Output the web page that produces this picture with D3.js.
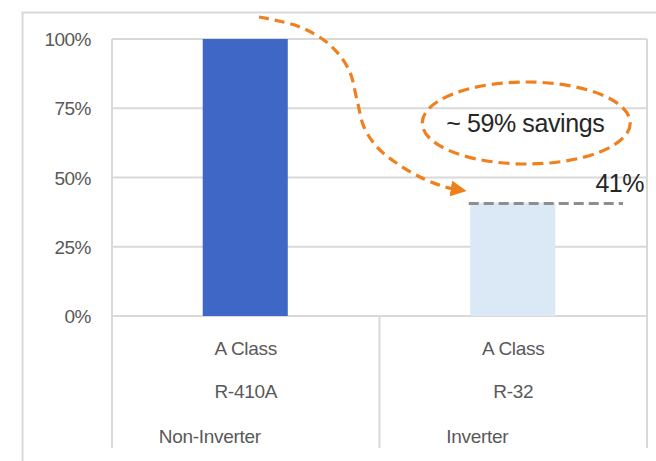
<!DOCTYPE html>
<html>
<head>
<meta charset="utf-8">
<script src="https://cdn.jsdelivr.net/npm/d3@7/dist/d3.min.js"></script>
<style>
  html, body { margin: 0; padding: 0; background: #fff; }
  svg { display: block; }
  text { font-family: "Liberation Sans", Arial, sans-serif; }
</style>
</head>
<body>
<script>
// Relative energy use: non-inverter R-410A unit vs inverter R-32 unit
const classLabels = ["A Class", "A Class"];
const refrigerants = ["R-410A", "R-32"];
const driveTypes = ["Non-Inverter", "Inverter"];
const values = [1.00, 0.41];
const yTicks = [0, 0.25, 0.5, 0.75, 1.0];
const barColors = ["#3F68C6", "#DBE9F7"];
const savingsText = "~ 59% savings";

const W = 656, H = 461;
const svg = d3.select("body").append("svg").attr("width", W).attr("height", H);

const keys = d3.range(values.length);
const x = d3.scaleBand().domain(keys).range([112, 647]).paddingInner(0).paddingOuter(0);
const y = d3.scaleLinear().domain([0, 1]).range([316, 39]);
const fmt = d3.format(".0%");
const grid = "#D9D9D9";
const axisText = "#595959";

// chart frame
svg.append("rect").attr("x", 22.5).attr("y", 12.5).attr("width", 700).attr("height", 470)
  .attr("fill", "none").attr("stroke", grid).attr("stroke-width", 2);

// gridlines
svg.append("g").selectAll("line").data(yTicks).join("line")
  .attr("x1", x.range()[0]).attr("x2", x.range()[1])
  .attr("y1", d => y(d)).attr("y2", d => y(d))
  .attr("stroke", grid).attr("stroke-width", 2);

// y tick labels
svg.append("g").selectAll("text").data(yTicks).join("text")
  .attr("x", 91).attr("y", d => y(d) + 7)
  .attr("text-anchor", "end").attr("font-size", 19).attr("fill", axisText)
  .attr("letter-spacing", -0.5)
  .text(d => fmt(d));

// plot edges and category dividers
const catBottom = 448;
svg.append("line").attr("x1", x.range()[0]).attr("x2", x.range()[0]).attr("y1", y(1)).attr("y2", catBottom)
  .attr("stroke", grid).attr("stroke-width", 2);
svg.append("line").attr("x1", x.range()[1]).attr("x2", x.range()[1]).attr("y1", y(1)).attr("y2", catBottom)
  .attr("stroke", grid).attr("stroke-width", 2);
svg.append("g").selectAll("line").data(keys.slice(1)).join("line")
  .attr("x1", d => x(d)).attr("x2", d => x(d)).attr("y1", y(0)).attr("y2", catBottom)
  .attr("stroke", grid).attr("stroke-width", 2);

// bars
const barW = x.bandwidth() * 0.318;
svg.append("g").selectAll("rect").data(keys).join("rect")
  .attr("x", d => x(d) + x.bandwidth() / 2 - barW / 2 - 0.5)
  .attr("width", barW)
  .attr("y", d => y(values[d]))
  .attr("height", d => y(0) - y(values[d]))
  .attr("fill", d => barColors[d]);

// category labels (three levels)
const cx = d => x(d) + x.bandwidth() / 2;
svg.append("g").selectAll("text").data(keys).join("text")
  .attr("x", cx).attr("y", 355).attr("text-anchor", "middle")
  .attr("font-size", 19).attr("fill", axisText).attr("letter-spacing", -0.3)
  .text(d => classLabels[d]);
svg.append("g").selectAll("text").data(keys).join("text")
  .attr("x", cx).attr("y", 398).attr("text-anchor", "middle")
  .attr("font-size", 19).attr("fill", axisText).attr("letter-spacing", -0.3)
  .text(d => refrigerants[d]);
svg.append("g").selectAll("text").data(keys).join("text")
  .attr("x", d => cx(d) - 36).attr("y", 443).attr("text-anchor", "middle")
  .attr("font-size", 19).attr("fill", axisText).attr("letter-spacing", -0.3)
  .text(d => driveTypes[d]);

// reference line at the inverter level
const lvl = values[1];
svg.append("line")
  .attr("x1", x(1) + x.bandwidth() / 2 - barW / 2 - 2)
  .attr("x2", x(1) + x.bandwidth() - 24)
  .attr("y1", y(lvl) + 1).attr("y2", y(lvl) + 1)
  .attr("stroke", "#8E8E8E").attr("stroke-width", 3).attr("stroke-dasharray", "10,5");
svg.append("text")
  .attr("x", x(1) + x.bandwidth() - 3).attr("y", y(lvl) - 10)
  .attr("text-anchor", "end").attr("font-size", 25).attr("fill", "#262626")
  .attr("letter-spacing", -0.5)
  .text(fmt(lvl));

// savings callout
const orange = "#F07F1E";
const ellCx = x(1) + x.bandwidth() / 2 + 13;
svg.append("ellipse")
  .attr("cx", ellCx).attr("cy", 123).attr("rx", 104).attr("ry", 41)
  .attr("fill", "none").attr("stroke", orange).attr("stroke-width", 3.2)
  .attr("stroke-dasharray", "11,6");
svg.append("text")
  .attr("x", ellCx - 1).attr("y", 132).attr("text-anchor", "middle")
  .attr("font-size", 25).attr("fill", "#262626").attr("letter-spacing", -0.4)
  .text(savingsText);

// curved arrow from the non-inverter bar down to the inverter level
svg.append("defs").append("marker")
  .attr("id", "ah").attr("viewBox", "0 0 10 10").attr("refX", 2).attr("refY", 5)
  .attr("markerWidth", 5).attr("markerHeight", 5).attr("orient", "auto")
  .attr("markerUnits", "strokeWidth")
  .append("path").attr("d", "M0,0 L10,5 L0,10 Z").attr("fill", orange);

const arrowPts = [[259, 17], [300, 27], [330, 45], [349, 70], [357, 100], [364, 127],
                  [377, 147], [395, 162], [420, 177], [445, 187], [454, 189]];
svg.append("path")
  .attr("d", d3.line().curve(d3.curveCatmullRom.alpha(0.5))(arrowPts))
  .attr("fill", "none").attr("stroke", orange).attr("stroke-width", 3.2)
  .attr("stroke-dasharray", "10,6")
  .attr("marker-end", "url(#ah)");
</script>
</body>
</html>
